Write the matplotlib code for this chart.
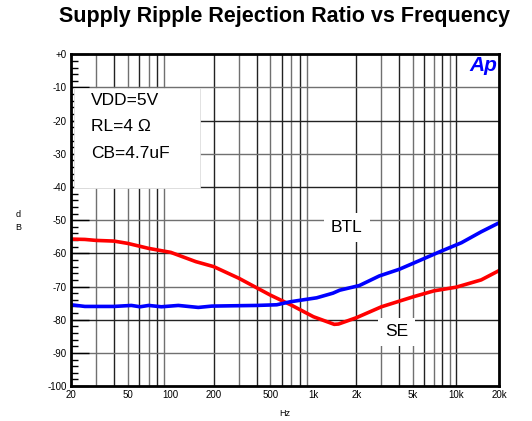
import matplotlib
matplotlib.use("Agg")
import matplotlib.pyplot as plt
from matplotlib.patches import Rectangle
from matplotlib.ticker import FixedLocator, NullFormatter

plt.rcParams['font.family'] = ['Liberation Sans', 'DejaVu Sans']

# measured curves (Hz, dB)
freq_btl = [20, 25, 30, 40, 53, 61, 70, 86, 113, 156, 194, 274, 400, 553, 687,
            850, 1054, 1370, 1530, 2100, 2900, 4000, 5000, 7700, 10900, 15000, 20000]
srr_btl = [-75.5, -76.0, -76.0, -76.0, -75.7, -76.1, -75.7, -76.1, -75.7, -76.3,
           -75.9, -75.8, -75.7, -75.5, -74.6, -74.0, -73.4, -72.0, -71.1, -69.7,
           -66.8, -64.8, -63.0, -59.5, -56.8, -53.5, -50.8]

freq_se = [20, 25, 30, 40, 50, 70, 100, 150, 200, 300, 500, 700, 1000, 1400,
           1500, 2000, 3000, 5000, 7000, 10000, 15000, 20000]
srr_se = [-55.7, -55.8, -56.1, -56.3, -57.0, -58.5, -59.7, -62.5, -64.0, -67.5,
          -72.6, -75.6, -79.1, -81.4, -81.3, -79.4, -76.1, -73.1, -71.3, -70.2,
          -68.0, -65.2]

x_ticks = [20, 50, 100, 200, 500, 1000, 2000, 5000, 10000, 20000]
x_tick_labels = ["20", "50", "100", "200", "500", "1k", "2k", "5k", "10k", "20k"]
y_ticks = list(range(-100, 1, 10))
y_tick_labels = ["+0" if v == 0 else str(v) for v in y_ticks]

grid_freqs = [f * m for m in (10, 100, 1000) for f in range(2, 10)] + [10000, 20000]
grid_freqs = [f for f in grid_freqs if 20 < f < 20000]

fig = plt.figure(figsize=(5.32, 4.21), dpi=100)
ax = fig.add_axes([0.1335, 0.083, 0.8045, 0.788])

ax.set_xscale('log')
ax.set_xlim(20, 20000)
ax.set_ylim(-100, 0)

# grid
for i, f in enumerate(grid_freqs):
    ax.axvline(f, color='#222222' if i % 2 else '#707070', lw=1.0, zorder=1)
for v in range(-90, 0, 10):
    ax.axhline(v, color='#222222' if v % 20 == 0 else '#707070', lw=1.0, zorder=1)

ax.plot(freq_se, srr_se, color='#ff0000', lw=2.6, zorder=5)
ax.plot(freq_btl, srr_btl, color='#0000ff', lw=2.6, zorder=5)

# condition box
ax.add_patch(Rectangle((21, -40.3), 139, 30.1, facecolor='white',
                       edgecolor='#dddddd', lw=0.6, zorder=3))
ax.text(27.5, -14.0, "VDD=5V", fontsize=12.5, va='center', zorder=4)
ax.text(27.5, -21.8, "RL=4 Ω", fontsize=12.5, va='center', zorder=4)
ax.text(27.5, -30.0, "CB=4.7uF", fontsize=12.5, va='center', zorder=4)

ax.text(1719, -52.3, "BTL", fontsize=12.5, ha='center', va='center', zorder=4,
        bbox=dict(facecolor='white', edgecolor='none', pad=5))
ax.text(3851, -83.7, "SE", fontsize=12.5, ha='center', va='center', zorder=4,
        bbox=dict(facecolor='white', edgecolor='none', pad=5))

ax.text(0.995, 0.994, "Ap", transform=ax.transAxes, fontsize=15,
        fontweight='bold', fontstyle='italic', color='#0000ff',
        ha='right', va='top', zorder=6)

# axes styling
for s in ax.spines.values():
    s.set_linewidth(2.0)
    s.set_zorder(7)

ax.xaxis.set_major_locator(FixedLocator(x_ticks))
ax.xaxis.set_minor_locator(FixedLocator([]))
ax.xaxis.set_minor_formatter(NullFormatter())
ax.set_xticklabels(x_tick_labels)
ax.set_yticks(y_ticks)
ax.set_yticklabels(y_tick_labels)
ax.yaxis.set_minor_locator(FixedLocator([v for v in range(-100, 1, 2) if v % 10]))
ax.tick_params(axis='both', which='major', labelsize=7, length=0, pad=3)
ax.tick_params(axis='y', which='major', direction='in', length=13, width=1.0)
ax.tick_params(axis='y', which='minor', direction='in', length=5, width=1.0)

ax.set_xlabel("Hz", fontsize=6.5, labelpad=6)
fig.text(0.034, 0.476, "d\nB", fontsize=6.5, ha='center', va='center',
         linespacing=1.6)

fig.suptitle("Supply Ripple Rejection Ratio vs Frequency", x=0.535, y=0.985,
             fontsize=15.5, fontweight='bold')

fig.savefig("out.png", dpi=100)
